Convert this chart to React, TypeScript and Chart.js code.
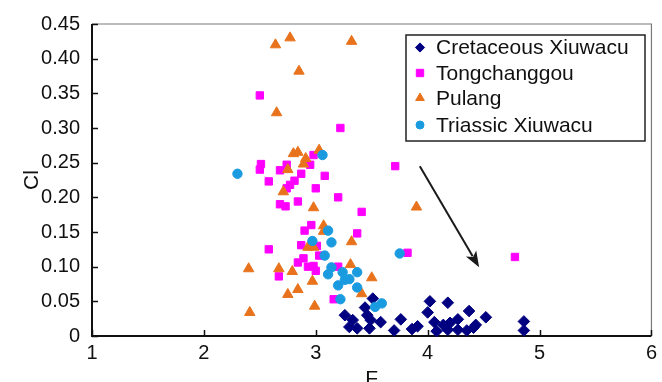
import React, { useEffect, useRef } from 'react';
import { Chart, registerables } from 'chart.js';
import { drawPoint } from 'chart.js/helpers';

Chart.register(...registerables);

const seriesNames = ['Cretaceous Xiuwacu', 'Tongchanggou', 'Pulang', 'Triassic Xiuwacu'];

const cretF = [3.26, 3.33, 3.30, 3.37, 3.44, 3.46, 3.49, 3.48, 3.51, 3.58, 3.76, 3.70, 3.86, 3.91, 4.02, 4.00, 4.06, 4.08, 4.18, 4.14, 4.20, 4.18, 4.27, 4.37, 4.27, 4.35, 4.41, 4.43, 4.52, 4.86, 4.86];
const cretCl = [0.030, 0.023, 0.013, 0.011, 0.041, 0.030, 0.023, 0.011, 0.054, 0.020, 0.024, 0.008, 0.010, 0.014, 0.050, 0.034, 0.020, 0.007, 0.048, 0.016, 0.019, 0.009, 0.024, 0.036, 0.009, 0.008, 0.012, 0.016, 0.027, 0.021, 0.008];

const tongF = [2.50, 3.22, 2.98, 2.51, 2.50, 2.68, 2.74, 2.95, 2.87, 3.08, 2.58, 2.81, 2.77, 2.74, 3.00, 3.20, 2.68, 2.73, 2.84, 3.41, 2.96, 2.90, 3.37, 3.71, 2.58, 2.87, 3.01, 3.03, 2.89, 2.84, 2.93, 2.98, 3.00, 2.67, 3.20, 3.16, 3.82, 4.78];
const tongCl = [0.347, 0.300, 0.261, 0.248, 0.240, 0.239, 0.247, 0.247, 0.234, 0.231, 0.223, 0.224, 0.218, 0.213, 0.213, 0.200, 0.190, 0.187, 0.194, 0.179, 0.160, 0.152, 0.148, 0.245, 0.125, 0.131, 0.130, 0.116, 0.112, 0.106, 0.100, 0.101, 0.094, 0.086, 0.100, 0.053, 0.120, 0.114];

const pulF = [2.64, 2.77, 3.32, 2.85, 2.65, 2.80, 2.84, 3.03, 2.91, 2.89, 2.75, 2.71, 2.98, 3.07, 3.07, 3.32, 2.93, 2.98, 2.40, 2.67, 2.79, 3.31, 3.50, 2.97, 2.84, 2.75, 2.99, 3.41, 2.41, 3.90];
const pulCl = [0.420, 0.430, 0.425, 0.382, 0.322, 0.263, 0.265, 0.268, 0.256, 0.248, 0.240, 0.208, 0.185, 0.159, 0.151, 0.136, 0.128, 0.128, 0.097, 0.097, 0.093, 0.103, 0.084, 0.079, 0.067, 0.060, 0.043, 0.061, 0.034, 0.186];

const triF = [3.06, 2.30, 3.11, 2.97, 3.14, 3.08, 3.14, 3.24, 3.11, 3.30, 3.20, 3.37, 3.37, 3.22, 3.59, 3.53, 3.75, 3.26];
const triCl = [0.261, 0.234, 0.152, 0.137, 0.135, 0.116, 0.099, 0.092, 0.089, 0.082, 0.073, 0.092, 0.070, 0.053, 0.047, 0.042, 0.119, 0.081];

const xTicks = [1, 2, 3, 4, 5, 6];
const yTicks = [0, 0.05, 0.1, 0.15, 0.2, 0.25, 0.3, 0.35, 0.4, 0.45];
const arrowFrom = [3.93, 0.245];
const arrowTo = [4.46, 0.099];

const FONT = 'Liberation Sans, Arial, sans-serif';

const toPts = (xs: number[], ys: number[]) => xs.map((x, i) => ({ x, y: ys[i] }));

const framePlugin = {
  id: 'frameAndExtras',
  beforeDatasetsDraw(chart: any) {
    const { ctx, chartArea: a, scales } = chart;
    const xs = scales.x, ys = scales.y;
    ctx.save();
    ctx.strokeStyle = '#7a7a7a';
    ctx.lineWidth = 1.2;
    ctx.beginPath();
    ctx.moveTo(a.left, a.top);
    ctx.lineTo(a.right, a.top);
    ctx.lineTo(a.right, a.bottom);
    ctx.stroke();
    ctx.strokeStyle = '#111';
    ctx.lineWidth = 2;
    ctx.beginPath();
    ctx.moveTo(a.left, a.top);
    ctx.lineTo(a.left, a.bottom);
    ctx.lineTo(a.right, a.bottom);
    ctx.stroke();
    ctx.lineWidth = 1.5;
    ctx.beginPath();
    yTicks.forEach((v) => {
      const py = Math.round(ys.getPixelForValue(v)) + 0.5;
      ctx.moveTo(a.left, py);
      ctx.lineTo(a.left + 6, py);
    });
    xTicks.forEach((v) => {
      const px = Math.round(xs.getPixelForValue(v)) + 0.5;
      ctx.moveTo(px, a.bottom);
      ctx.lineTo(px, a.bottom - 6);
    });
    ctx.stroke();
    ctx.restore();
  },
  afterDatasetsDraw(chart: any) {
    const { ctx, scales } = chart;
    const xs = scales.x, ys = scales.y;
    ctx.save();
    const x1 = xs.getPixelForValue(arrowFrom[0]);
    const y1 = ys.getPixelForValue(arrowFrom[1]);
    const x2 = xs.getPixelForValue(arrowTo[0]);
    const y2 = ys.getPixelForValue(arrowTo[1]);
    const ang = Math.atan2(y2 - y1, x2 - x1);
    const hl = 16, hw = 6;
    ctx.strokeStyle = '#1a1a1a';
    ctx.fillStyle = '#1a1a1a';
    ctx.lineWidth = 2;
    ctx.beginPath();
    ctx.moveTo(x1, y1);
    ctx.lineTo(x2 - Math.cos(ang) * hl * 0.8, y2 - Math.sin(ang) * hl * 0.8);
    ctx.stroke();
    ctx.beginPath();
    ctx.moveTo(x2, y2);
    ctx.lineTo(x2 - Math.cos(ang) * hl - Math.sin(ang) * hw, y2 - Math.sin(ang) * hl + Math.cos(ang) * hw);
    ctx.lineTo(x2 - Math.cos(ang) * hl * 0.75, y2 - Math.sin(ang) * hl * 0.75);
    ctx.lineTo(x2 - Math.cos(ang) * hl + Math.sin(ang) * hw, y2 - Math.sin(ang) * hl - Math.cos(ang) * hw);
    ctx.closePath();
    ctx.fill();

    const bx = 406, by = 35, bw = 239, bh = 106;
    ctx.fillStyle = '#fff';
    ctx.fillRect(bx, by, bw, bh);
    ctx.strokeStyle = '#222';
    ctx.lineWidth = 1.5;
    ctx.strokeRect(bx, by, bw, bh);
    const rows = [47.5, 73, 98, 125];
    const sizes = [4.6, 5.2, 5.0, 4.0];
    chart.data.datasets.forEach((ds: any, i: number) => {
      const cy = rows[i];
      ctx.fillStyle = ds.backgroundColor;
      ctx.strokeStyle = ds.backgroundColor;
      ctx.lineWidth = 1;
      drawPoint(ctx, { pointStyle: ds.pointStyle, radius: sizes[i], borderWidth: 1, rotation: 0 }, 420, cy);
      ctx.fillStyle = '#111';
      ctx.font = `21px ${FONT}`;
      ctx.textBaseline = 'middle';
      ctx.textAlign = 'left';
      ctx.fillText(ds.label, 436, cy + 1);
    });
    ctx.restore();
  },
};

export default function App() {
  const ref = useRef<HTMLCanvasElement | null>(null);
  useEffect(() => {
    if (!ref.current) return;
    const H = 400;
    const chart = new Chart(ref.current, {
      type: 'scatter',
      data: {
        datasets: [
          { label: seriesNames[0], data: toPts(cretF, cretCl), pointStyle: 'rectRot', radius: 5.8, backgroundColor: '#000080', borderColor: '#000080', borderWidth: 1, order: 3, clip: false },
          { label: seriesNames[1], data: toPts(tongF, tongCl), pointStyle: 'rect', radius: 5.2, backgroundColor: '#ff00ff', borderColor: '#ff00ff', borderWidth: 1, order: 2, clip: false },
          { label: seriesNames[2], data: toPts(pulF, pulCl), pointStyle: 'triangle', radius: 6, backgroundColor: '#e8731c', borderColor: '#e8731c', borderWidth: 1, order: 1, clip: false },
          { label: seriesNames[3], data: toPts(triF, triCl), pointStyle: 'circle', radius: 4.7, backgroundColor: '#1a9be0', borderColor: '#1a9be0', borderWidth: 1, order: 0, clip: false },
        ] as any,
      },
      options: {
        responsive: false,
        animation: false,
        devicePixelRatio: 1,
        layout: { padding: { left: 0, top: 21, right: 5, bottom: 0 } },
        plugins: { legend: { display: false }, tooltip: { enabled: false } },
        scales: {
          x: {
            type: 'linear',
            min: 1,
            max: 6,
            afterFit: (s: any) => { s.height = H - 336; },
            afterBuildTicks: (s: any) => { s.ticks = xTicks.map((v) => ({ value: v })); },
            grid: { display: false, drawTicks: false },
            border: { display: false },
            ticks: { color: '#111', font: { family: FONT, size: 20 }, padding: 5, callback: (v: any) => String(v) },
            title: { display: true, text: 'F', color: '#111', font: { family: FONT, size: 21 }, padding: { top: 0, bottom: 8 } },
          },
          y: {
            type: 'linear',
            min: 0,
            max: 0.45,
            afterFit: (s: any) => { s.width = 92; },
            afterBuildTicks: (s: any) => { s.ticks = yTicks.map((v) => ({ value: v })); },
            grid: { display: false, drawTicks: false },
            border: { display: false },
            ticks: { color: '#111', font: { family: FONT, size: 20 }, padding: 12, callback: (v: any) => (v === 0 ? '0' : Number(v).toFixed(2)) },
            title: { display: true, text: 'Cl', color: '#111', font: { family: FONT, size: 21 }, padding: { top: 20, bottom: 0 } },
          },
        },
      },
      plugins: [framePlugin],
    });
    return () => chart.destroy();
  }, []);
  return (
    <div style={{ position: 'fixed', left: 0, top: 0, width: 662, height: 382, overflow: 'hidden', background: '#fff' }}>
      <canvas ref={ref} width={662} height={400} style={{ display: 'block', width: 662, height: 400 }} />
    </div>
  );
}
